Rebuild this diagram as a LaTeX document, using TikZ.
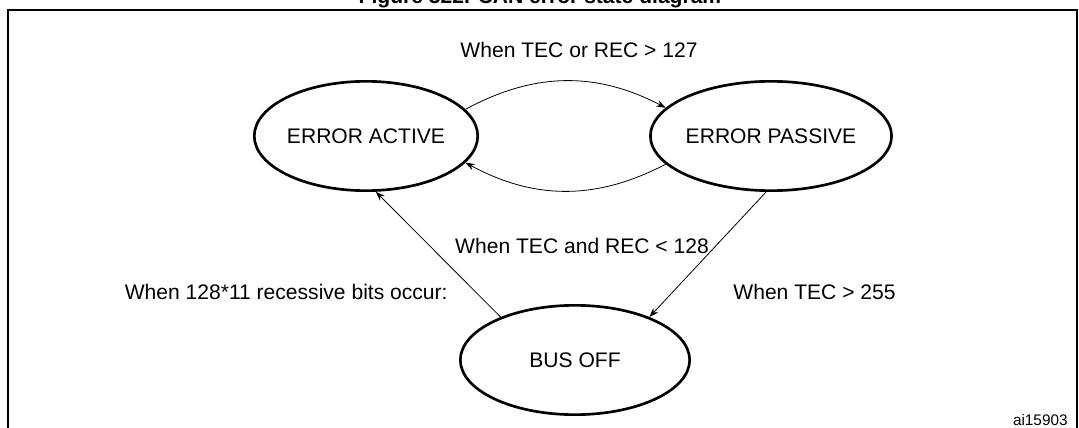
\documentclass[tikz,border=0pt]{standalone}
\usepackage{fontspec}
\setmainfont{Liberation Sans}
\usetikzlibrary{arrows.meta,shapes.geometric,positioning}

\begin{document}
\begin{tikzpicture}[
    x = 0.75pt, y = -0.75pt, % pixel grid
    > = {Stealth[length=7pt,width=5pt]}, % arrow head style
    semithick, % line style
    font = \fontsize{15.8}{18}\selectfont
    ]

    \tikzset{every state/.style={
    ellipse,
    draw = black,
    line width = 2pt,
    inner sep = 0pt,
    minimum width = 162pt,
    minimum height = 82pt
    }}
    \tikzset{label text/.style={inner sep = 0pt}}

    \useasboundingbox (0,0) rectangle (1079,428);
    \draw[line width=1.2pt] (8,428) -- (8,10) -- (1077,10) -- (1077,428);
    \node[anchor=base, font=\bfseries\fontsize{15.8}{18}\selectfont] (title) at (540,4) {Figure 322. CAN error state diagram};

    \node[every state] (active) at (366,136) {ERROR ACTIVE};
    \node[every state] (passive) at (771,136) {ERROR PASSIVE};
    \node[every state, minimum width = 172pt] (busoff) at (575,360) {BUS OFF};

    \path[->] (active.15) edge[bend left=28] (passive.165);
    \path[->] (passive.195) edge[bend left=28] (active.-15);
    \path[->] (busoff.150) edge (active.-80);
    \path[->] (passive.-95) edge (busoff.30);

    \node[label text] (up) at (579,50) {When TEC or REC > 127};
    \node[label text] (down) at (582,246) {When TEC and REC < 128};
    \node[label text, anchor=east] (recover) at (448,292) {When 128*11 recessive bits occur:};
    \node[label text, anchor=west] (off) at (733,292) {When TEC > 255};
    \node[label text, anchor=east, font=\fontsize{11.5}{13}\selectfont] (id) at (1068,420) {ai15903};
\end{tikzpicture}
\end{document}
